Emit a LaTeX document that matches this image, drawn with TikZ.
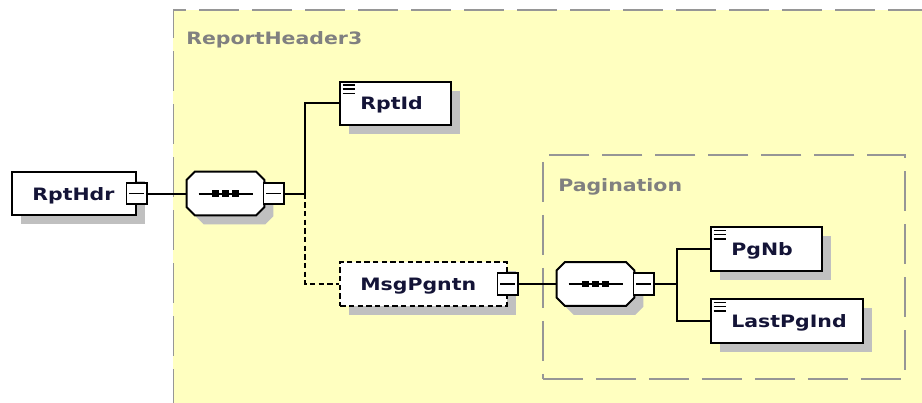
\documentclass[tikz,border=0pt]{standalone}
\usepackage{fontspec}
\newfontfamily\xsdfont[FakeStretch=1.2]{DejaVu Sans Bold}
\usetikzlibrary{positioning,shadows}
\definecolor{GroupYellow}{RGB}{255,255,192}
\definecolor{GroupGray}{RGB}{150,150,150}
\definecolor{LabelGray}{RGB}{128,128,128}
\definecolor{ShadeGray}{RGB}{192,192,192}
\definecolor{NameInk}{RGB}{20,20,55}

\tikzset{
	boxshadow/.style={drop shadow={shadow xshift=6.75pt,shadow yshift=-6.75pt,fill=ShadeGray,opacity=1}},
	elembox/.style={draw,fill=white,line width=1.5pt,minimum height=32.6pt,
		inner xsep=15pt,inner ysep=0pt,align=left,text height=9.75pt,text depth=0pt,
		font=\xsdfont\fontsize{12.8}{14}\selectfont,text=NameInk,boxshadow},
	leafbox/.style={elembox,path picture={
			\foreach \k in {2.3,5.5,8.7}
			\draw[black,line width=1.1pt] ([xshift=1.8pt,yshift=-\k pt]path picture bounding box.north west) -- ++(9.5pt,0pt);}},
	optbox/.style={elembox,dash pattern=on 4pt off 2.5pt},
	expander/.style={draw,fill=white,line width=1.3pt,minimum width=15.2pt,minimum height=16pt,inner sep=0pt,
		path picture={\draw[black,line width=1.1pt] ([xshift=2pt]path picture bounding box.west) -- ([xshift=-2pt]path picture bounding box.east);}},
	seqbox/.style={minimum width=57.75pt,minimum height=32.25pt,inner sep=0pt},
	seqedge/.style={draw,fill=white,line width=1.5pt,boxshadow},
	grpbox/.style={draw=GroupGray,fill=GroupYellow,line width=1.3pt,dash pattern=on 30pt off 9.75pt,inner sep=0pt,anchor=north west},
	grplabel/.style={anchor=base west,inner sep=0pt,text=LabelGray,font=\xsdfont\fontsize{12.8}{14}\selectfont},
	wire/.style={line width=1.5pt},
	optwire/.style={wire,dash pattern=on 4pt off 2.5pt}
}

\begin{document}
\begin{tikzpicture}[x=0.75pt,y=-0.75pt]
	
	\useasboundingbox (0,0) rectangle (922,403);
	\clip (0,0) rectangle (922,403);
	
	% groups
	\node[grpbox,minimum width=580pt,minimum height=320pt] (rhgroup) at (172.5,9.5) {};
	\node[grplabel] (rhlabel) at (186,45) {ReportHeader3};
	
	\node[grpbox,minimum width=271.5pt,minimum height=167.6pt] (pggroup) at (542,154.5) {};
	\node[grplabel] (pglabel) at (558,191.5) {Pagination};
	
	% sequence compositors
	\node[seqbox] (seqa) at (225.5,193.5) {};
	\node[seqbox] (seqb) at (595.5,284) {};
	
	\foreach \s in {seqa,seqb}{
		\draw[seqedge] ([xshift=6pt]\s.north west) -- ([xshift=-6pt]\s.north east) -- ([yshift=-6pt]\s.north east)
		-- ([yshift=6pt]\s.south east) -- ([xshift=-6pt]\s.south east) -- ([xshift=6pt]\s.south west)
		-- ([yshift=6pt]\s.south west) -- ([yshift=-6pt]\s.north west) -- cycle;
		\draw[wire] ([xshift=-20.25pt]\s.center) -- ([xshift=20.25pt]\s.center);
		\foreach \d in {-7.5,0,7.5}
		\fill ([xshift=\d pt-2.5pt,yshift=-2.5pt]\s.center) rectangle ++(5pt,5pt);
	}
	
	% elements
	\node[elembox,text width=62.5pt] (rpthdr) at (74,193.5) {RptHdr};
	\node[expander] (rpthdrx) at (rpthdr.east) {};
	
	\node[expander] (seqax) at (273.5,193.5) {};
	
	\node[leafbox,text width=52.75pt] (rptid) at (395.5,103.5) {RptId};
	
	\node[optbox,text width=94.75pt] (msgpg) at (423.5,284) {MsgPgntn};
	\node[expander] (msgpgx) at (msgpg.east) {};
	
	\node[expander] (seqbx) at (643.5,284) {};
	
	\node[leafbox,text width=52.75pt] (pgnb) at (766.5,249) {PgNb};
	\node[leafbox,text width=83.5pt] (lastpg) at (787,321) {LastPgInd};
	
	% connectors
	\coordinate (busa) at (305,193.5);
	\coordinate (busb) at (677,284);
	
	\draw[wire] (rpthdrx) -- (seqa.west);
	\draw[wire] (seqax.east) -- (busa) |- (rptid.west);
	\draw[optwire] (busa) |- (msgpg.west);
	\draw[wire] (msgpgx) -- (seqb.west);
	\draw[wire] (seqbx.east) -- (busb) |- (pgnb.west);
	\draw[wire] (busb) |- (lastpg.west);
	
\end{tikzpicture}
\end{document}
